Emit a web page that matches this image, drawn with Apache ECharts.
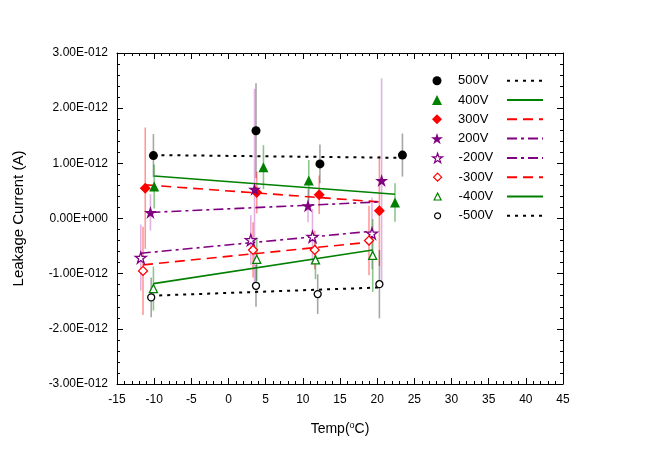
<!DOCTYPE html>
<html><head><meta charset="utf-8">
<script src="https://cdn.jsdelivr.net/npm/echarts@6/dist/echarts.min.js"></script>
<style>html,body{margin:0;padding:0;background:#fff}#c{width:654px;height:462px}</style>
</head><body><div id="c"></div>
<script>
// Values: temperature in °C, current in units of 1E-012 A
const seriesNames = ['500V','400V','300V','200V','-200V','-300V','-400V','-500V'];
const temp500 = [-10.1, 3.7, 12.3, 23.4];   const cur500 = [1.14, 1.59, 0.99, 1.15];   const err500 = [0.39, 0.86, 0.35, 0.39];
const temp400 = [-10.0, 4.7, 10.8, 22.4];   const cur400 = [0.58, 0.93, 0.69, 0.29];   const err400 = [0.40, 0.40, 0.37, 0.35];
const temp300 = [-11.2, 3.8, 12.2, 20.3];   const cur300 = [0.55, 0.47, 0.43, 0.14];   const err300 = [1.10, 0.38, 0.35, 1.00];
const temp200 = [-10.5, 3.5, 10.7, 20.6];   const cur200 = [0.11, 0.53, 0.23, 0.69];   const err200 = [0.33, 1.82, 0.30, 1.85];
const tempM200 = [-11.8, 3.0, 11.3, 19.3];  const curM200 = [-0.71, -0.39, -0.33, -0.27]; const errM200 = [0.60, 0.45, 0.50, 0.65];
const tempM300 = [-11.5, 3.3, 11.6, 18.9];  const curM300 = [-0.95, -0.57, -0.57, -0.40]; const errM300 = [0.80, 0.50, 0.35, 0.63];
const tempM400 = [-10.1, 3.8, 11.7, 19.4];  const curM400 = [-1.27, -0.74, -0.75, -0.67]; const errM400 = [0.40, 0.40, 0.35, 0.66];
const tempM500 = [-10.4, 3.7, 12.0, 20.3];  const curM500 = [-1.43, -1.22, -1.37, -1.19]; const errM500 = [0.36, 0.38, 0.36, 0.62];
// linear fit endpoints [x0, y0, x1, y1]
const fit500 = [-10.1, 1.15, 23.4, 1.10];
const fit400 = [-10.0, 0.77, 22.4, 0.44];
const fit300 = [-11.2, 0.61, 20.3, 0.30];
const fit200 = [-10.5, 0.11, 20.2, 0.30];
const fitM200 = [-11.8, -0.63, 19.3, -0.23];
const fitM300 = [-11.5, -0.84, 18.9, -0.43];
const fitM400 = [-10.1, -1.18, 19.4, -0.57];
const fitM500 = [-10.4, -1.40, 20.3, -1.25];
const yTickLabels = {'-3':'-3.00E-012','-2':'-2.00E-012','-1':'-1.00E-012','0':'0.00E+000','1':'1.00E-012','2':'2.00E-012','3':'3.00E-012'};

const STAR = 'path://M50 0 L61.23 34.55 L97.55 34.55 L68.16 55.9 L79.39 90.45 L50 69.1 L20.61 90.45 L31.84 55.9 L2.45 34.55 L38.77 34.55 Z';
const groups = [
  {name:'500V', t:temp500, c:cur500, e:err500, f:fit500, color:'#000000', err:'rgba(0,0,0,0.35)', sym:'circle', size:9, leg:9, hollow:false, dash:[3,5], lw:2},
  {name:'400V', t:temp400, c:cur400, e:err400, f:fit400, color:'#008000', err:'rgba(0,128,0,0.45)', sym:'triangle', size:10, leg:10, hollow:false, dash:'solid', lw:1.6},
  {name:'300V', t:temp300, c:cur300, e:err300, f:fit300, color:'#ff0000', err:'rgba(255,0,0,0.4)', sym:'diamond', size:11, leg:10, hollow:false, dash:[10,6], lw:1.6},
  {name:'200V', t:temp200, c:cur200, e:err200, f:fit200, color:'#800080', err:'rgba(160,0,160,0.3)', sym:STAR, size:13, leg:12, hollow:false, dash:[10,4,3,4], lw:1.6},
  {name:'-200V', t:tempM200, c:curM200, e:errM200, f:fitM200, color:'#800080', err:'rgba(160,0,160,0.3)', sym:STAR, size:11, leg:10, hollow:true, dash:[10,4,3,4], lw:1.6},
  {name:'-300V', t:tempM300, c:curM300, e:errM300, f:fitM300, color:'#ff0000', err:'rgba(255,0,0,0.4)', sym:'diamond', size:9, leg:8, hollow:true, dash:[10,6], lw:1.6},
  {name:'-400V', t:tempM400, c:curM400, e:errM400, f:fitM400, color:'#008000', err:'rgba(0,128,0,0.45)', sym:'triangle', size:8, leg:7, hollow:true, dash:'solid', lw:1.6},
  {name:'-500V', t:tempM500, c:curM500, e:errM500, f:fitM500, color:'#000000', err:'rgba(0,0,0,0.35)', sym:'circle', size:7, leg:6, hollow:true, dash:[3,5], lw:2}
];

const FONT = 'Liberation Sans, Arial, Helvetica, sans-serif';
const markStyle = g => g.hollow ? {color:'#ffffff', borderColor:g.color, borderWidth:1.3, opacity:1}
                                 : {color:g.color, borderColor:g.color, borderWidth:0, opacity:1};
const series = [];
groups.forEach(g => {
  series.push({
    type:'custom', name:g.name+' err', z:1, silent:true,
    data: g.t.map((x,i)=>[x, g.c[i]-g.e[i], g.c[i]+g.e[i]]),
    renderItem: (params, api) => {
      const p0 = api.coord([api.value(0), api.value(1)]);
      const p1 = api.coord([api.value(0), api.value(2)]);
      return {type:'line', shape:{x1:p0[0], y1:p0[1], x2:p1[0], y2:p1[1]}, style:{stroke:g.err, lineWidth:1.6}};
    }
  });
});
groups.forEach(g => {
  series.push({
    type:'line', name:g.name+' fit', z:2, symbol:'none', silent:true,
    data:[[g.f[0], g.f[1]], [g.f[2], g.f[3]]],
    lineStyle:{color:g.color, width:g.lw, type:g.dash},
    itemStyle:{color:g.color}
  });
});
groups.forEach(g => {
  series.push({
    type:'scatter', name:g.name, z:3, symbol:g.sym, symbolSize:g.size,
    data: g.t.map((x,i)=>[x, g.c[i]]),
    itemStyle: markStyle(g)
  });
});

const axisCommon = {
  type:'value',
  axisLine:{show:true, onZero:false, lineStyle:{color:'#000', width:1}},
  axisTick:{show:true, inside:true, length:6, lineStyle:{color:'#000'}},
  minorTick:{show:true, splitNumber:5, length:3, lineStyle:{color:'#000'}},
  splitLine:{show:false}
};

const ROW0 = 80.7, ROWSTEP = 19.3, MARKX = 437, TEXTX = 458;
const legends = groups.map((g, i) => ({
  orient:'vertical', padding:0, selectedMode:false,
  left: MARKX - g.leg/2, top: ROW0 + i*ROWSTEP - 7,
  itemWidth:g.leg, itemHeight:g.leg,
  data:[g.name],
  itemStyle: g.hollow ? {color:'#ffffff', borderColor:g.color, borderWidth:1.2, opacity:1}
                      : {color:g.color, borderWidth:0, opacity:1},
  textStyle:{color:'#000', fontSize:13, fontFamily:FONT, lineHeight:14,
    padding:[0,0,0, TEXTX - (MARKX + g.leg/2 + 5)]}
}));
legends.push({
  orient:'vertical', padding:0, selectedMode:false, left:506, top:ROW0 - 7,
  itemWidth:36, itemHeight:10, itemGap:ROWSTEP - 14,
  data: seriesNames.map(n=>n+' fit'), formatter:()=>' ',
  itemStyle:{opacity:0},
  textStyle:{color:'#000', fontSize:13, fontFamily:FONT, lineHeight:14}
});

const option = {
  animation:false,
  backgroundColor:'#fff',
  grid:{left:117, top:53, right:91, bottom:78},
  xAxis:[
    Object.assign({}, axisCommon, {min:-15, max:45, interval:5, position:'bottom',
      axisLabel:{color:'#000', fontSize:12, fontFamily:FONT, margin:10},
      name:'Temp({sup|o}C)', nameLocation:'middle', nameGap:37,
      nameTextStyle:{color:'#000', fontSize:14, fontFamily:FONT,
        rich:{sup:{fontSize:9, fontFamily:FONT, color:'#000', padding:[0,0,8,0]}}}}),
    Object.assign({}, axisCommon, {min:-15, max:45, interval:5, position:'top', axisLabel:{show:false}})
  ],
  yAxis:[
    Object.assign({}, axisCommon, {min:-3, max:3, interval:1, position:'left',
      axisLabel:{color:'#000', fontSize:12, fontFamily:FONT, margin:9,
        formatter: v => yTickLabels[String(Math.round(v))]},
      name:'Leakage Current (A)', nameLocation:'middle', nameGap:91, nameRotate:90,
      nameTextStyle:{color:'#000', fontSize:15, fontFamily:FONT}}),
    Object.assign({}, axisCommon, {min:-3, max:3, interval:1, position:'right', axisLabel:{show:false}})
  ],
  legend: legends,
  series: series
};
const chart = echarts.init(document.getElementById('c'), null, {renderer:'canvas'});
chart.setOption(option);
</script></body></html>
